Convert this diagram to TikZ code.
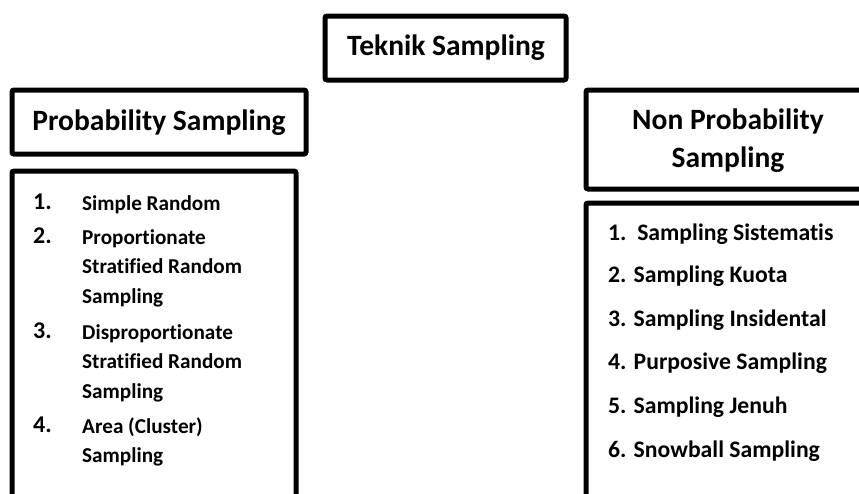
\documentclass[tikz,border=0pt]{standalone}
\usepackage{fontspec}
\setmainfont{Carlito}[Ligatures=CommonOff]
\begin{document}
\begin{tikzpicture}[x=1pt, y=-1pt,
	box/.style={draw, line width=5pt, rounded corners=2pt, inner sep=0pt, outer sep=0pt},
	head/.style={font=\bfseries\fontsize{29.5}{38}\selectfont},
	num/.style={font=\bfseries\fontsize{24}{27}\selectfont, anchor=base west, inner sep=0pt},
	item/.style={font=\bfseries\fontsize{21.2}{24}\selectfont, anchor=base west, inner sep=0pt},
	ritem/.style={font=\bfseries\fontsize{23.7}{27}\selectfont, anchor=base west, inner sep=0pt}]
	\clip (0, 0) rectangle (859, 493);
	
	% Top box
	\node[box, minimum width=241pt, minimum height=64pt] (teknik) at (445.5, 48) {};
	\node[head, anchor=base] (teknikText) at (446, 55) {Teknik Sampling};
	
	% Left boxes
	\node[box, minimum width=294pt, minimum height=64pt] (prob) at (159, 122) {};
	\node[head, anchor=base] (probText) at (159, 130) {Probability Sampling};
	\node[box, minimum width=284pt, minimum height=360pt, anchor=north west] (probList) at (12, 171) {};
	
	% Left list
	\node[num] (n1) at (33, 209) {1.};
	\node[item] (p1) at (82, 210) {Simple Random};
	\node[num] (n2) at (33, 243) {2.};
	\node[item] (p2a) at (82, 244) {Proportionate};
	\node[item] (p2b) at (82, 273.5) {Stratified Random};
	\node[item] (p2c) at (82, 303) {Sampling};
	\node[num] (n3) at (33, 338) {3.};
	\node[item] (p3a) at (82, 339) {Disproportionate};
	\node[item] (p3b) at (82, 368.5) {Stratified Random};
	\node[item] (p3c) at (82, 398) {Sampling};
	\node[num] (n4) at (33, 432) {4.};
	\node[item] (p4a) at (82, 433) {Area (Cluster)};
	\node[item] (p4b) at (82, 462.5) {Sampling};
	
	% Right boxes
	\node[box, minimum width=300pt, minimum height=99pt, anchor=north west] (nonprob) at (586, 90) {};
	\node[head, align=center] (nonprobText) at (728, 141) {Non Probability\\Sampling};
	\node[box, minimum width=300pt, minimum height=330pt, anchor=north west] (nonprobList) at (586, 203) {};
	
	% Right list
	\node[ritem] (r1) at (608, 240) {1.\ \ Sampling Sistematis};
	\node[ritem] (r2) at (608, 282) {2. Sampling Kuota};
	\node[ritem] (r3) at (608, 326) {3. Sampling Insidental};
	\node[ritem] (r4) at (608, 369) {4. Purposive Sampling};
	\node[ritem] (r5) at (608, 413) {5. Sampling Jenuh};
	\node[ritem] (r6) at (608, 457) {6. Snowball Sampling};
\end{tikzpicture}
\end{document}
